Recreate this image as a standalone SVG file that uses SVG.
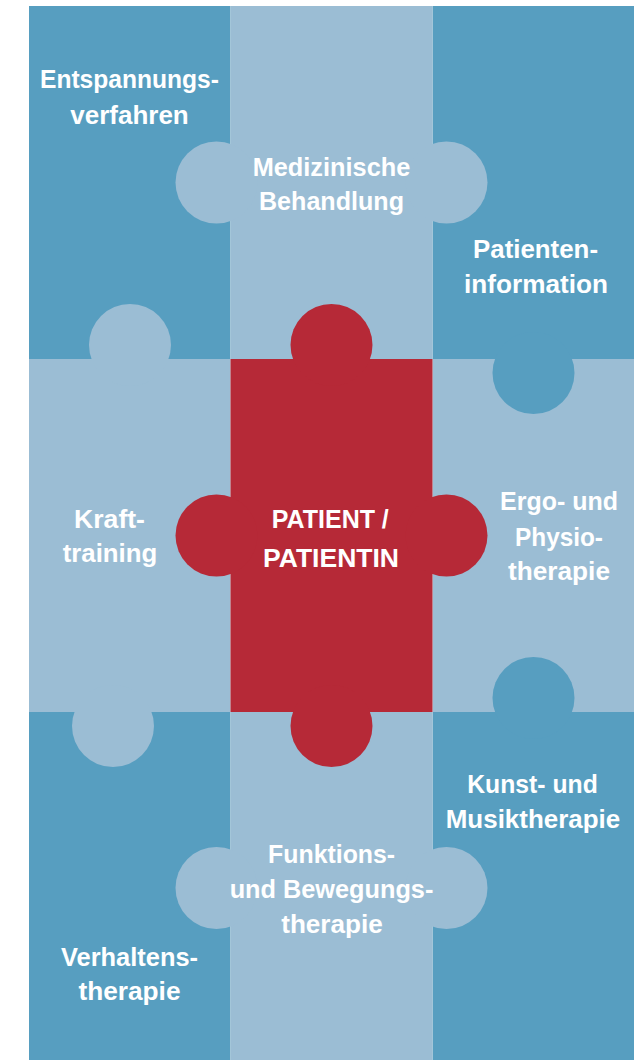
<svg xmlns="http://www.w3.org/2000/svg" width="644" height="1060" viewBox="0 0 644 1060">
<style>
.dark{fill:#579EC0}
.light{fill:#9BBDD4}
.red{fill:#B62937}
text{font-family:"Liberation Sans",Arial,sans-serif;font-weight:bold;font-size:26px;fill:#FFFFFF;text-anchor:middle}
</style>
<rect width="644" height="1060" fill="#FFFFFF"/>
<g id="ergo-physio">
<rect class="light" x="432.5" y="359" width="201.5" height="353"/>
<text x="559" y="510" textLength="118" lengthAdjust="spacingAndGlyphs">Ergo- und</text>
<text x="559" y="545.7" textLength="88" lengthAdjust="spacingAndGlyphs">Physio-</text>
<text x="559" y="580" textLength="102" lengthAdjust="spacingAndGlyphs">therapie</text>
</g>
<g id="entspannung">
<rect class="dark" x="29" y="6" width="201.5" height="353"/>
<text x="129.5" y="88" textLength="179" lengthAdjust="spacingAndGlyphs">Entspannungs-</text>
<text x="129.5" y="124" textLength="118.5" lengthAdjust="spacingAndGlyphs">verfahren</text>
</g>
<g id="verhalten">
<rect class="dark" x="29" y="712" width="201.5" height="348"/>
<text x="129.5" y="966" textLength="137" lengthAdjust="spacingAndGlyphs">Verhaltens-</text>
<text x="129.5" y="1000" textLength="102" lengthAdjust="spacingAndGlyphs">therapie</text>
</g>
<g id="kunst-musik">
<rect class="dark" x="432.5" y="712" width="201.5" height="348"/>
<circle class="dark" cx="533.5" cy="698" r="41"/>
<text x="532.5" y="793.3" textLength="130.5" lengthAdjust="spacingAndGlyphs">Kunst- und</text>
<text x="533" y="828.3" textLength="174.5" lengthAdjust="spacingAndGlyphs">Musiktherapie</text>
</g>
<g id="patienteninformation">
<rect class="dark" x="432.5" y="6" width="201.5" height="353"/>
<circle class="dark" cx="533.5" cy="373" r="41"/>
<text x="535.5" y="257.7" textLength="125" lengthAdjust="spacingAndGlyphs">Patienten-</text>
<text x="536" y="292.7" textLength="144" lengthAdjust="spacingAndGlyphs">information</text>
</g>
<g id="krafttraining">
<rect class="light" x="29" y="359" width="201.5" height="353"/>
<circle class="light" cx="130" cy="345" r="41"/>
<circle class="light" cx="113" cy="726" r="41"/>
<text x="109.5" y="527.7" textLength="71" lengthAdjust="spacingAndGlyphs">Kraft-</text>
<text x="110" y="561.7" textLength="94.5" lengthAdjust="spacingAndGlyphs">training</text>
</g>
<g id="medizinische-behandlung">
<rect class="light" x="230.5" y="6" width="202" height="353"/>
<circle class="light" cx="216.5" cy="182.5" r="41"/>
<circle class="light" cx="446.5" cy="182.5" r="41"/>
<text x="331.5" y="175.7" textLength="157.6" lengthAdjust="spacingAndGlyphs">Medizinische</text>
<text x="331.5" y="210" textLength="145" lengthAdjust="spacingAndGlyphs">Behandlung</text>
</g>
<g id="funktions-bewegung">
<rect class="light" x="230.5" y="712" width="202" height="348"/>
<circle class="light" cx="216.5" cy="888" r="41"/>
<circle class="light" cx="446.5" cy="888" r="41"/>
<text x="331.6" y="863.3" textLength="127" lengthAdjust="spacingAndGlyphs">Funktions-</text>
<text x="331.5" y="898.3" textLength="203.7" lengthAdjust="spacingAndGlyphs">und Bewegungs-</text>
<text x="332" y="933.3" textLength="101.6" lengthAdjust="spacingAndGlyphs">therapie</text>
</g>
<g id="patient">
<rect class="red" x="230.5" y="359" width="202" height="353"/>
<circle class="red" cx="331.5" cy="345" r="41"/>
<circle class="red" cx="331.5" cy="726" r="41"/>
<circle class="red" cx="216.5" cy="535.5" r="41"/>
<circle class="red" cx="446.5" cy="535.5" r="41"/>
<text x="330.3" y="527.7" textLength="117" lengthAdjust="spacingAndGlyphs">PATIENT /</text>
<text x="331" y="566.7" textLength="136" lengthAdjust="spacingAndGlyphs">PATIENTIN</text>
</g>
<g id="connectors"/>
</svg>
